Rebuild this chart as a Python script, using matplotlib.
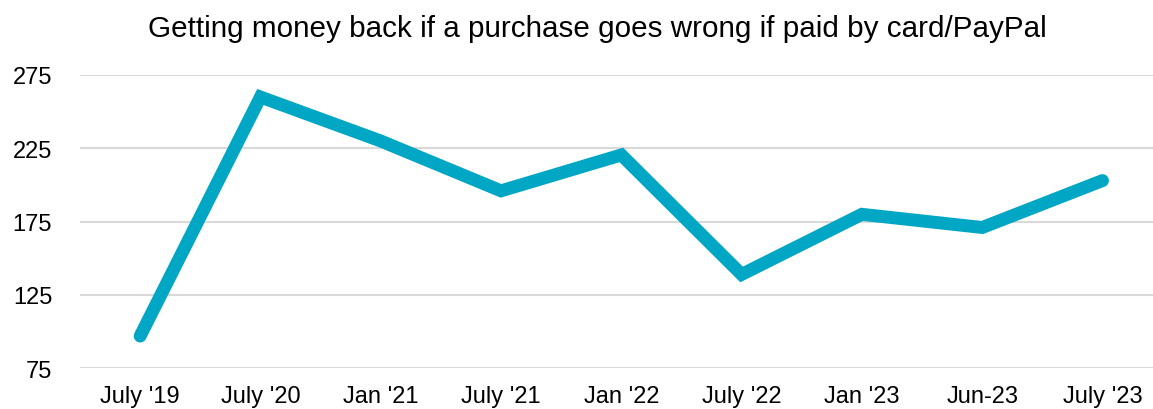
import matplotlib
matplotlib.use("Agg")
import matplotlib.pyplot as plt

categories = ["July '19", "July '20", "Jan '21", "July '21", "Jan '22",
              "July '22", "Jan '23", "Jun-23", "July '23"]
values = [97, 260, 230, 196, 220.5, 139, 180, 171, 203]
yticks = [75, 125, 175, 225, 275]
title = "Getting money back if a purchase goes wrong if paid by card/PayPal"

plt.rcParams['font.family'] = ['Liberation Sans', 'DejaVu Sans']

fig = plt.figure(figsize=(11.53, 4.10), dpi=100)
ax = fig.add_axes([80/1153, (410-369.3)/410, 1 - 80/1153, (369.3-76)/410])

x = list(range(len(categories)))
ax.plot(x, values, color='#00A7C4', linewidth=9.3, solid_capstyle='round',
        solid_joinstyle='miter', clip_on=False, zorder=3)

ax.set_ylim(75, 275)
ax.set_xlim(-0.5, 8.42)
ax.set_yticks(yticks)
ax.set_xticks(x)
ax.set_xticklabels(categories)
ax.grid(axis='y', color='#D9D9D9', linewidth=1.5)
ax.set_axisbelow(True)
for s in ax.spines.values():
    s.set_visible(False)
ax.tick_params(axis='both', length=0, labelsize=17, colors='black')
ax.tick_params(axis='y', pad=20)
ax.tick_params(axis='x', pad=12)

fig.text(597/1153, 1 - 29/410, title, ha='center', va='center', fontsize=21.3)

fig.savefig("out.png", dpi=100)
